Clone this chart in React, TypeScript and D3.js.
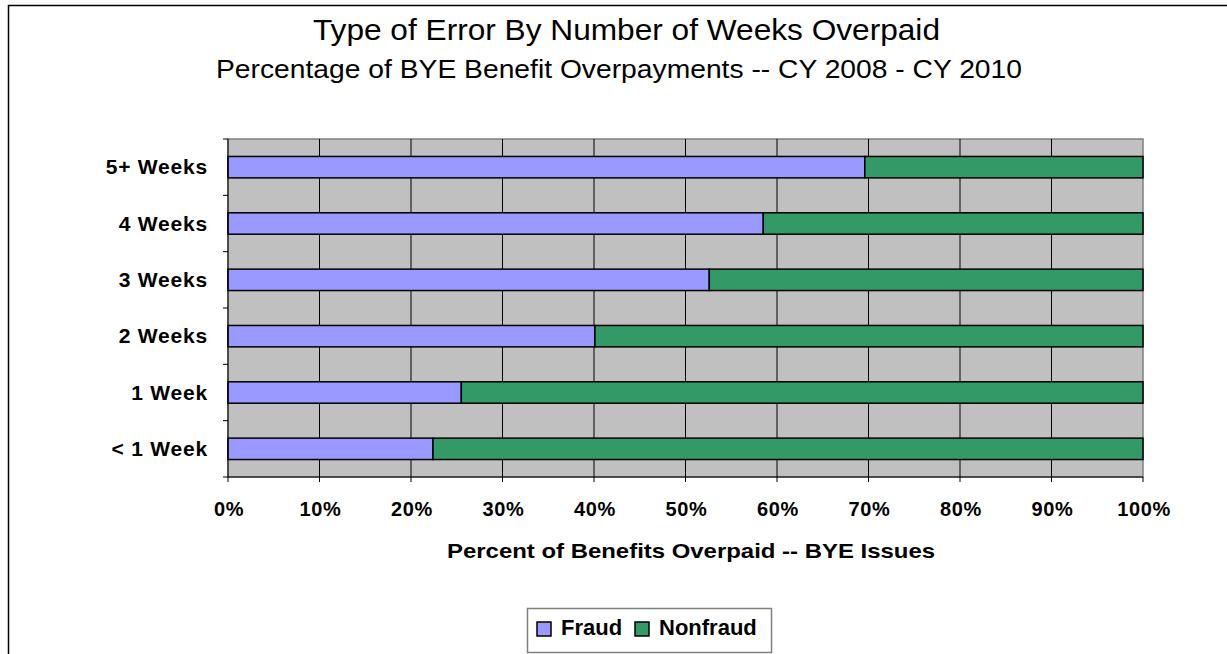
import React, { useEffect, useRef } from 'react';
import * as d3 from 'd3';

// categories top to bottom, as drawn
const categories = ['5+ Weeks', '4 Weeks', '3 Weeks', '2 Weeks', '1 Week', '< 1 Week'];
// share of overpaid benefits, percent
const fraud = [69.6, 58.5, 52.6, 40.1, 25.5, 22.4];
const nonfraud = fraud.map(f => 100 - f);
const seriesNames = ['Fraud', 'Nonfraud'];
const seriesColors = ['#9999FF', '#339966'];
const xTicks = [0, 10, 20, 30, 40, 50, 60, 70, 80, 90, 100];

const W = 1227;
const H = 654;

export default function App() {
    const ref = useRef<SVGSVGElement>(null);

    useEffect(() => {
        const svg = d3.select(ref.current);
        svg.selectAll('*').remove();

        const font = 'Arial, "Liberation Sans", sans-serif';

        // outer chart border
        svg.append('rect')
            .attr('x', 8.5).attr('y', 5.5)
            .attr('width', W + 20).attr('height', H + 20)
            .attr('fill', 'white').attr('stroke', 'black').attr('stroke-width', 1.5);

        // titles (old excel text renders wide, so stretch glyphs)
        svg.append('text')
            .attr('x', 313).attr('y', 40)
            .attr('font-family', font).attr('font-size', 29)
            .attr('textLength', 627).attr('lengthAdjust', 'spacingAndGlyphs')
            .text('Type of Error By Number of Weeks Overpaid');
        svg.append('text')
            .attr('x', 216).attr('y', 78)
            .attr('font-family', font).attr('font-size', 26)
            .attr('textLength', 806).attr('lengthAdjust', 'spacingAndGlyphs')
            .text('Percentage of BYE Benefit Overpayments -- CY 2008 - CY 2010');

        const margin = { left: 228, top: 139, right: W - 1143, bottom: H - 477 };
        const graphWidth = W - margin.left - margin.right;
        const graphHeight = H - margin.top - margin.bottom;

        const x = d3.scaleLinear().domain([0, 100]).range([0, graphWidth]);
        const y = d3.scaleBand<string>()
            .domain(categories)
            .range([0, graphHeight])
            .paddingInner(0.62)
            .paddingOuter(0.31);

        const graph = svg.append('g')
            .attr('transform', `translate(${margin.left}, ${margin.top})`);

        // plot area
        graph.append('rect')
            .attr('width', graphWidth).attr('height', graphHeight)
            .attr('fill', '#C0C0C0').attr('stroke', '#808080').attr('stroke-width', 1.5);

        // vertical gridlines
        graph.selectAll('line.grid')
            .data(xTicks.slice(1, -1))
            .enter().append('line')
            .attr('class', 'grid')
            .attr('x1', d => x(d)).attr('x2', d => x(d))
            .attr('y1', 0).attr('y2', graphHeight)
            .attr('stroke', 'black').attr('stroke-width', 1);

        // stacked bars
        const rows = categories.map((c, i) => ({ name: c, Fraud: fraud[i], Nonfraud: nonfraud[i] }));
        const stack = d3.stack<any>().keys(seriesNames)(rows);

        stack.forEach((layer, li) => {
            graph.append('g')
                .selectAll('rect')
                .data(layer)
                .enter().append('rect')
                .attr('x', d => x(d[0]))
                .attr('width', d => x(d[1]) - x(d[0]))
                .attr('y', d => y(d.data.name)!)
                .attr('height', y.bandwidth())
                .attr('fill', seriesColors[li])
                .attr('stroke', 'black').attr('stroke-width', 1.5);
        });

        // y axis
        const yAxisGroup = graph.append('g');
        yAxisGroup.append('line')
            .attr('x1', 0).attr('x2', 0).attr('y1', 0).attr('y2', graphHeight)
            .attr('stroke', 'black').attr('stroke-width', 1);
        const bounds = categories.map((c, i) => i * y.step());
        bounds.push(graphHeight);
        yAxisGroup.selectAll('line.tick')
            .data(bounds)
            .enter().append('line')
            .attr('class', 'tick')
            .attr('x1', -5).attr('x2', 0)
            .attr('y1', d => d).attr('y2', d => d)
            .attr('stroke', 'black');
        yAxisGroup.selectAll('text')
            .data(categories)
            .enter().append('text')
            .attr('x', -20)
            .attr('y', d => y(d)! + y.bandwidth() / 2 + 7.3)
            .attr('text-anchor', 'end')
            .attr('font-family', font).attr('font-size', 21).attr('font-weight', 'bold')
            .attr('letter-spacing', 0.8)
            .text(d => d);

        // x axis
        const xAxisGroup = graph.append('g')
            .attr('transform', `translate(0, ${graphHeight})`);
        xAxisGroup.append('line')
            .attr('x1', 0).attr('x2', graphWidth)
            .attr('stroke', 'black').attr('stroke-width', 1);
        xAxisGroup.selectAll('line.tick')
            .data(xTicks)
            .enter().append('line')
            .attr('class', 'tick')
            .attr('x1', d => x(d)).attr('x2', d => x(d))
            .attr('y1', 0).attr('y2', 5)
            .attr('stroke', 'black');
        xAxisGroup.selectAll('text')
            .data(xTicks)
            .enter().append('text')
            .attr('x', d => x(d) + 1)
            .attr('y', 39)
            .attr('text-anchor', 'middle')
            .attr('font-family', font).attr('font-size', 20).attr('font-weight', 'bold')
            .attr('letter-spacing', 0.6)
            .text(d => d + '%');

        // axis title
        svg.append('text')
            .attr('x', 447).attr('y', 558)
            .attr('font-family', font).attr('font-size', 21).attr('font-weight', 'bold')
            .attr('textLength', 488).attr('lengthAdjust', 'spacingAndGlyphs')
            .text('Percent of Benefits Overpaid -- BYE Issues');

        // legend
        const legend = svg.append('g').attr('transform', 'translate(527, 608)');
        legend.append('rect')
            .attr('x', 0.5).attr('y', 0.5)
            .attr('width', 244).attr('height', 44)
            .attr('fill', 'white').attr('stroke', '#808080').attr('stroke-width', 1.5);
        const legendX = [10, 108];
        seriesNames.forEach((name, i) => {
            legend.append('rect')
                .attr('x', legendX[i]).attr('y', 14)
                .attr('width', 14).attr('height', 14)
                .attr('fill', seriesColors[i]).attr('stroke', 'black').attr('stroke-width', 1.5);
            legend.append('text')
                .attr('x', legendX[i] + 24).attr('y', 27)
                .attr('font-family', font).attr('font-size', 22).attr('font-weight', 'bold')
                .text(name);
        });
    }, []);

    return (
        <div style={{ position: 'absolute', left: 0, top: 0 }}>
            <svg ref={ref} width={W} height={H} style={{ display: 'block' }} />
        </div>
    );
}
